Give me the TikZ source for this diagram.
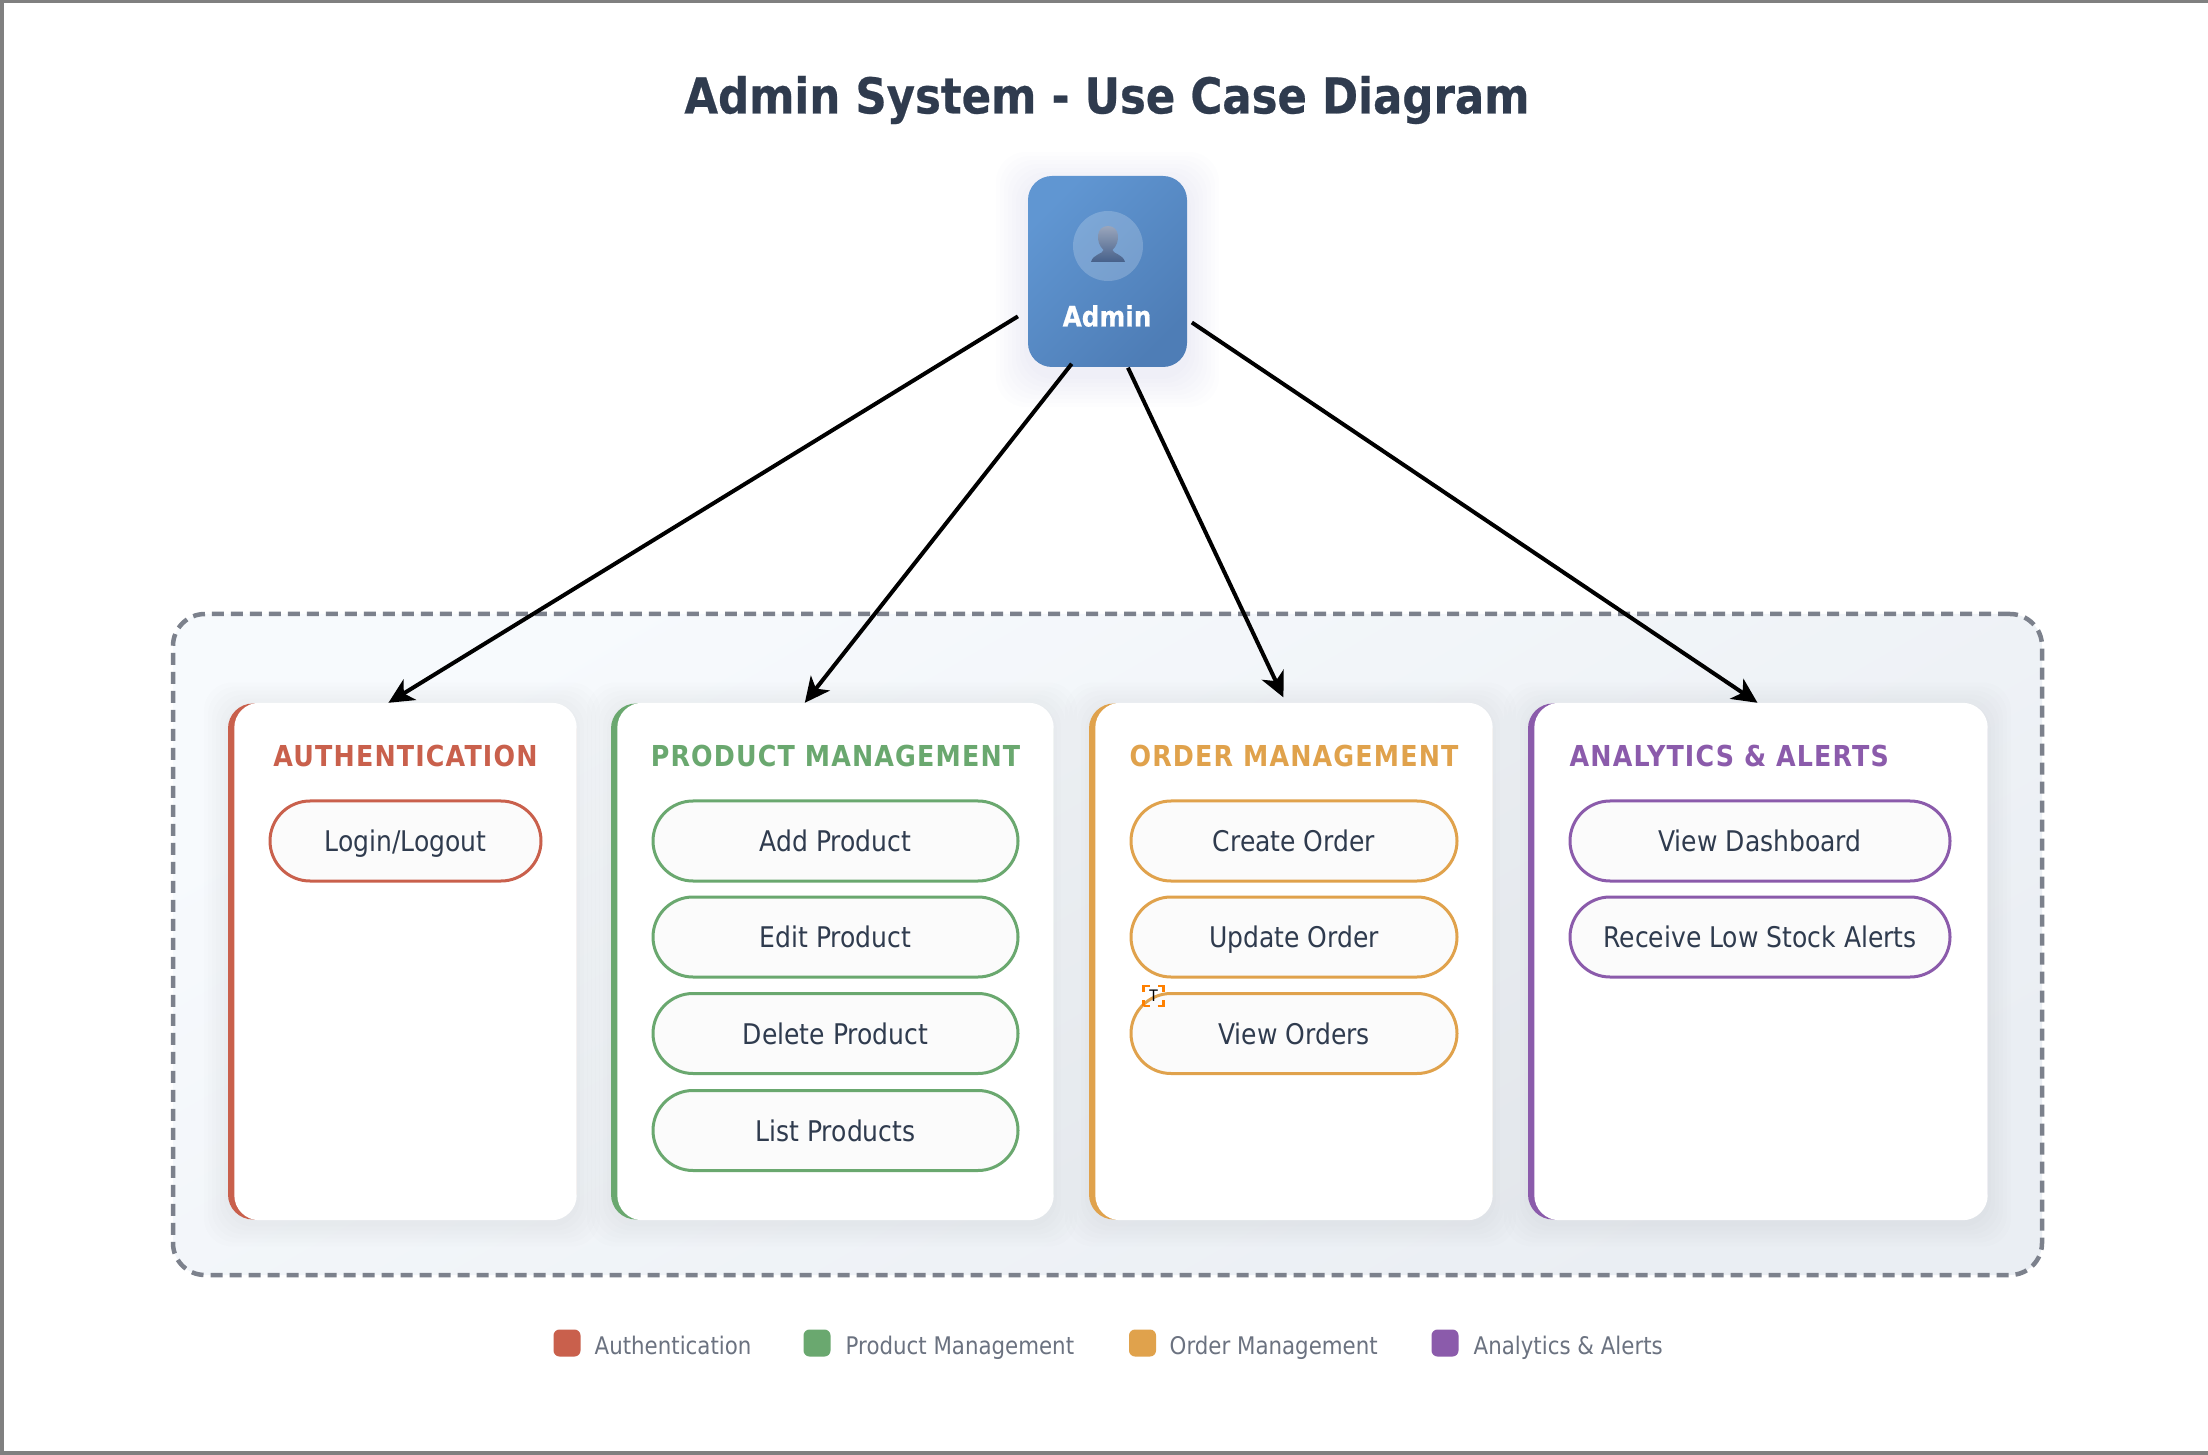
\documentclass[tikz,border=0pt]{standalone}
\usepackage{fontspec}
\setmainfont{DejaVu Sans}[FakeStretch=0.88]
\newfontfamily\headfont{DejaVu Sans}[FakeStretch=0.88,LetterSpace=4]
\newfontfamily\heavyfont{DejaVu Sans}[FakeStretch=0.88,BoldFeatures={FakeBold=0.5}]
\usetikzlibrary{arrows.meta}

\definecolor{authred}{HTML}{C9604C}
\definecolor{prodgreen}{HTML}{6AA86F}
\definecolor{ordorange}{HTML}{E0A24C}
\definecolor{alertpurple}{HTML}{8B5BAB}
\definecolor{inkdark}{HTML}{2F3B4E}
\definecolor{inkgray}{HTML}{6B7280}
\definecolor{dashgray}{HTML}{7C818C}
\definecolor{adminlight}{HTML}{6096D2}
\definecolor{admindark}{HTML}{4E7DB6}
\definecolor{facetop}{HTML}{9AA6BC}
\definecolor{facebottom}{HTML}{46608A}
\definecolor{sysfrom}{HTML}{F7FAFD}
\definecolor{systo}{HTML}{EAEEF3}

\tikzset{
    pillbox/.style={draw=#1, line width=0.03cm, fill=white!97!gray, rounded corners=0.4cm,
        minimum height=0.8cm, inner sep=0pt, text=inkdark, font=\fontsize{8.1}{10}\selectfont,
        text height=0.8em, text depth=0.2em},
    headbox/.style={text=#1, inner sep=0pt, font=\headfont\bfseries\fontsize{8.2}{10}\selectfont},
    legendbox/.style={fill=#1, rounded corners=0.06cm, minimum size=0.27cm, inner sep=0pt},
    legendtext/.style={anchor=west, inner sep=0pt, text=inkgray, font=\fontsize{6.9}{9}\selectfont,
        text height=0.8em, text depth=0.2em},
    usearrow/.style={-{Stealth[length=0.25cm,width=0.24cm,inset=0.07cm]}, line width=0.04cm, black}
}

\begin{document}
\begin{tikzpicture}
    \useasboundingbox (0,0) rectangle (22.08,14.54);
    \fill[white] (0,0) rectangle (22.08,14.54);
    \draw[gray, line width=0.07cm] (22.08,14.54) -- (0,14.54) -- (0,0) -- (22.08,0);

    \node[text=inkdark, font=\heavyfont\bfseries\fontsize{14.05}{18}\selectfont] (title) at (11.07,13.54) {Admin System - Use Case Diagram};

    % actor
    \foreach \g in {1,...,8}
        \fill[adminlight, opacity=0.012, rounded corners=0.3cm]
            (11.075-0.795-0.04*\g,11.825-0.955-0.08-0.04*\g) rectangle (11.075+0.795+0.04*\g,11.825+0.955-0.08+0.04*\g);
    \node[minimum width=1.59cm, minimum height=1.91cm, inner sep=0pt, rounded corners=0.24cm,
        left color=adminlight, right color=admindark, shading angle=45] (admin) at (11.075,11.825) {};
    \node[circle, fill=white, fill opacity=0.2, minimum size=0.7cm, inner sep=0pt] (adminface) at (11.08,12.08) {};
    \shade[top color=facetop, bottom color=facebottom]
        (10.91,11.92) .. controls (10.93,12.0) and (11.03,12.0) .. (11.035,12.04)
        .. controls (10.95,12.12) and (10.96,12.28) .. (11.08,12.28)
        .. controls (11.2,12.28) and (11.21,12.12) .. (11.125,12.04)
        .. controls (11.13,12.0) and (11.23,12.0) .. (11.25,11.92) -- cycle;
    \node[text=white, inner sep=0pt, font=\heavyfont\bfseries\fontsize{8}{10}\selectfont] (adminlabel) at (11.07,11.38) {Admin};

    % system
    \node[minimum width=18.69cm, minimum height=6.61cm, inner sep=0pt, rounded corners=0.32cm,
        draw=dashgray, line width=0.045cm, dash pattern=on 0.12cm off 0.07cm,
        left color=sysfrom, right color=systo, shading angle=30] (system) at (11.075,5.095) {};

    % cards
    \foreach \nm/\col/\cx/\cw in {authcard/authred/4.02/3.48,prodcard/prodgreen/8.32/4.42,ordcard/ordorange/12.905/4.03,alertcard/alertpurple/17.575/4.59}{
        \foreach \g in {1,...,6}
            \fill[black, opacity=0.007, rounded corners=0.28cm]
                (\cx-\cw/2-0.04*\g,4.925-2.58-0.03-0.04*\g) rectangle (\cx+\cw/2+0.04*\g,4.925+2.58-0.03+0.04*\g);
        \node[fill=\col, minimum width=\cw cm, minimum height=5.16cm, inner sep=0pt, rounded corners=0.25cm] (\nm) at (\cx,4.925) {};
        \fill[white, rounded corners=0.25cm] ([xshift=0.07cm]\nm.south west) rectangle (\nm.north east);
    }

    \node[headbox=authred] (authhead) at (4.055,6.975) {AUTHENTICATION};
    \node[headbox=prodgreen] (prodhead) at (8.355,6.975) {PRODUCT MANAGEMENT};
    \node[headbox=ordorange] (ordhead) at (12.94,6.975) {ORDER MANAGEMENT};
    \node[headbox=alertpurple, anchor=west] (alerthead) at (15.69,6.975) {ANALYTICS \& ALERTS};

    \node[pillbox=authred, minimum width=2.71cm] (login) at (4.055,6.13) {Login/Logout};

    \node[pillbox=prodgreen, minimum width=3.65cm] (addprod) at (8.355,6.13) {Add Product};
    \node[pillbox=prodgreen, minimum width=3.65cm] (editprod) at (8.355,5.17) {Edit Product};
    \node[pillbox=prodgreen, minimum width=3.65cm] (delprod) at (8.355,4.205) {Delete Product};
    \node[pillbox=prodgreen, minimum width=3.65cm] (listprod) at (8.355,3.235) {List Products};

    \node[pillbox=ordorange, minimum width=3.26cm] (createord) at (12.94,6.13) {Create Order};
    \node[pillbox=ordorange, minimum width=3.26cm] (updateord) at (12.94,5.17) {Update Order};
    \node[pillbox=ordorange, minimum width=3.26cm] (vieword) at (12.94,4.205) {View Orders};

    \node[pillbox=alertpurple, minimum width=3.80cm] (viewdash) at (17.6,6.13) {View Dashboard};
    \node[pillbox=alertpurple, minimum width=3.80cm] (lowstock) at (17.6,5.17) {Receive Low Stock Alerts};

    % text cursor
    \node[draw=orange, line width=0.025cm, dash pattern=on 0.06cm off 0.08cm on 0.06cm off 0cm,
        minimum size=0.2cm, inner sep=0pt, font=\fontsize{4.5}{5}\selectfont] (cursor) at (11.535,4.58) {T};

    % arrows
    \draw[usearrow, shorten <=0.11cm] (admin.206.4) -- (authcard.93.7);
    \draw[usearrow, shorten <=-0.05cm] (admin.248.6) -- (prodcard.96.2);
    \draw[usearrow, shorten >=0.06cm] (admin.282.7) -- (ordcard.91.1);
    \draw[usearrow, shorten <=0.05cm] (admin.329) -- (alertcard.north);

    % legend
    \node[legendbox=authred] (legauth) at (5.67,1.11) {};
    \node[legendtext] (legauthtext) at (5.94,1.1) {Authentication};
    \node[legendbox=prodgreen] (legprod) at (8.17,1.11) {};
    \node[legendtext] (legprodtext) at (8.45,1.1) {Product Management};
    \node[legendbox=ordorange] (legord) at (11.425,1.11) {};
    \node[legendtext] (legordtext) at (11.69,1.1) {Order Management};
    \node[legendbox=alertpurple] (legalert) at (14.45,1.11) {};
    \node[legendtext] (legalerttext) at (14.73,1.1) {Analytics \& Alerts};
\end{tikzpicture}
\end{document}
